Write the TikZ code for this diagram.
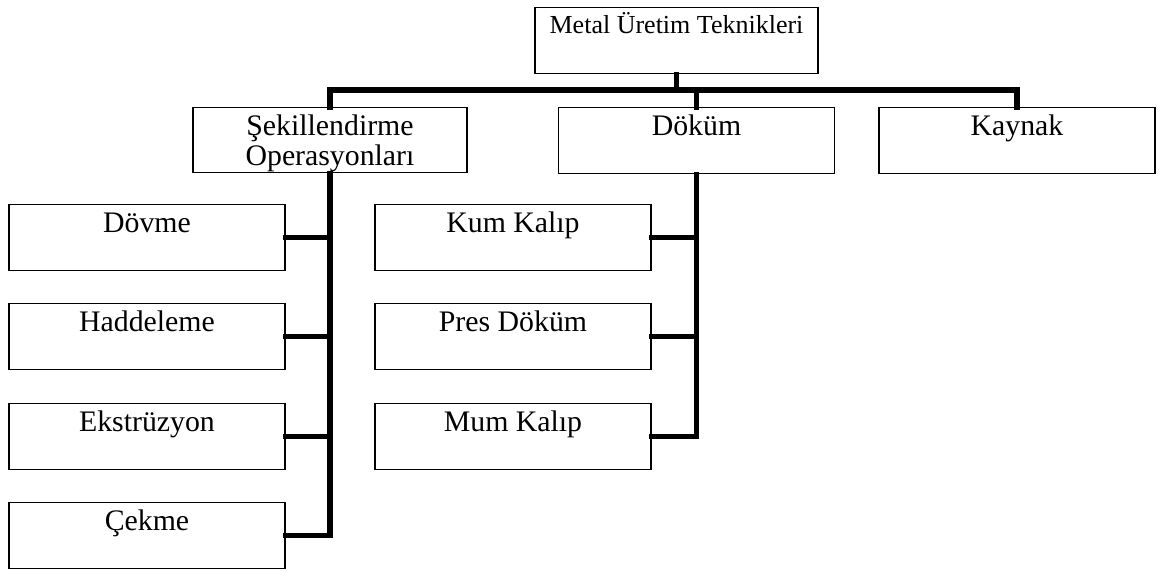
\documentclass[tikz,border=0pt]{standalone}
\usepackage{fontspec}
\setmainfont{Liberation Serif}
\usepackage{tikz}

\begin{document}
\begin{tikzpicture}[x=0.5pt,y=-0.5pt,
    box/.style={draw,line width=0.7pt,inner sep=0pt,anchor=north,minimum width=138pt,
      text height=14pt,text depth=19pt,font=\fontsize{14.9}{15}\selectfont},
    conn/.style={line width=2.6pt,line cap=rect}]
  \useasboundingbox (0,0) rectangle (1160,570);
  % top of the tree
  \node[box,minimum width=141.5pt,text height=13pt,text depth=20pt,font=\fontsize{13}{15}\selectfont] (top) at (676.5,7) {Metal Üretim Teknikleri};
  \node[box,minimum width=137pt,align=center,text height=29pt,text depth=3.5pt] (sek) at (330,107) {Şekillendirme\\Operasyonları};
  \node[box] (dok) at (696.5,107) {Döküm};
  \node[box] (kay) at (1017,107) {Kaynak};
  \coordinate (bar) at (0,90);
  % left column
  \node[box] (dov) at (147,204) {Dövme};
  \node[box] (had) at (147,303) {Haddeleme};
  \node[box] (eks) at (147,403) {Ekstrüzyon};
  \node[box] (cek) at (147,502) {Çekme};
  % middle column
  \node[box] (kum) at (513,204) {Kum Kalıp};
  \node[box] (pres) at (513,303) {Pres Döküm};
  \node[box] (mum) at (513,403) {Mum Kalıp};
  % connectors
  \draw[conn] (top.south) -- (top.south |- bar);
  \draw[conn] (sek.north) |- (kay.north |- bar) -- (kay.north);
  \draw[conn] (dok.north |- bar) -- (dok.north);
  \draw[conn] (sek.south) |- (cek.east);
  \foreach \n in {dov,had,eks}
    \draw[conn] (\n.east) -- (\n.east -| sek.south);
  \draw[conn] (dok.south) |- (mum.east);
  \foreach \n in {kum,pres}
    \draw[conn] (\n.east) -- (\n.east -| dok.south);
\end{tikzpicture}
\end{document}
